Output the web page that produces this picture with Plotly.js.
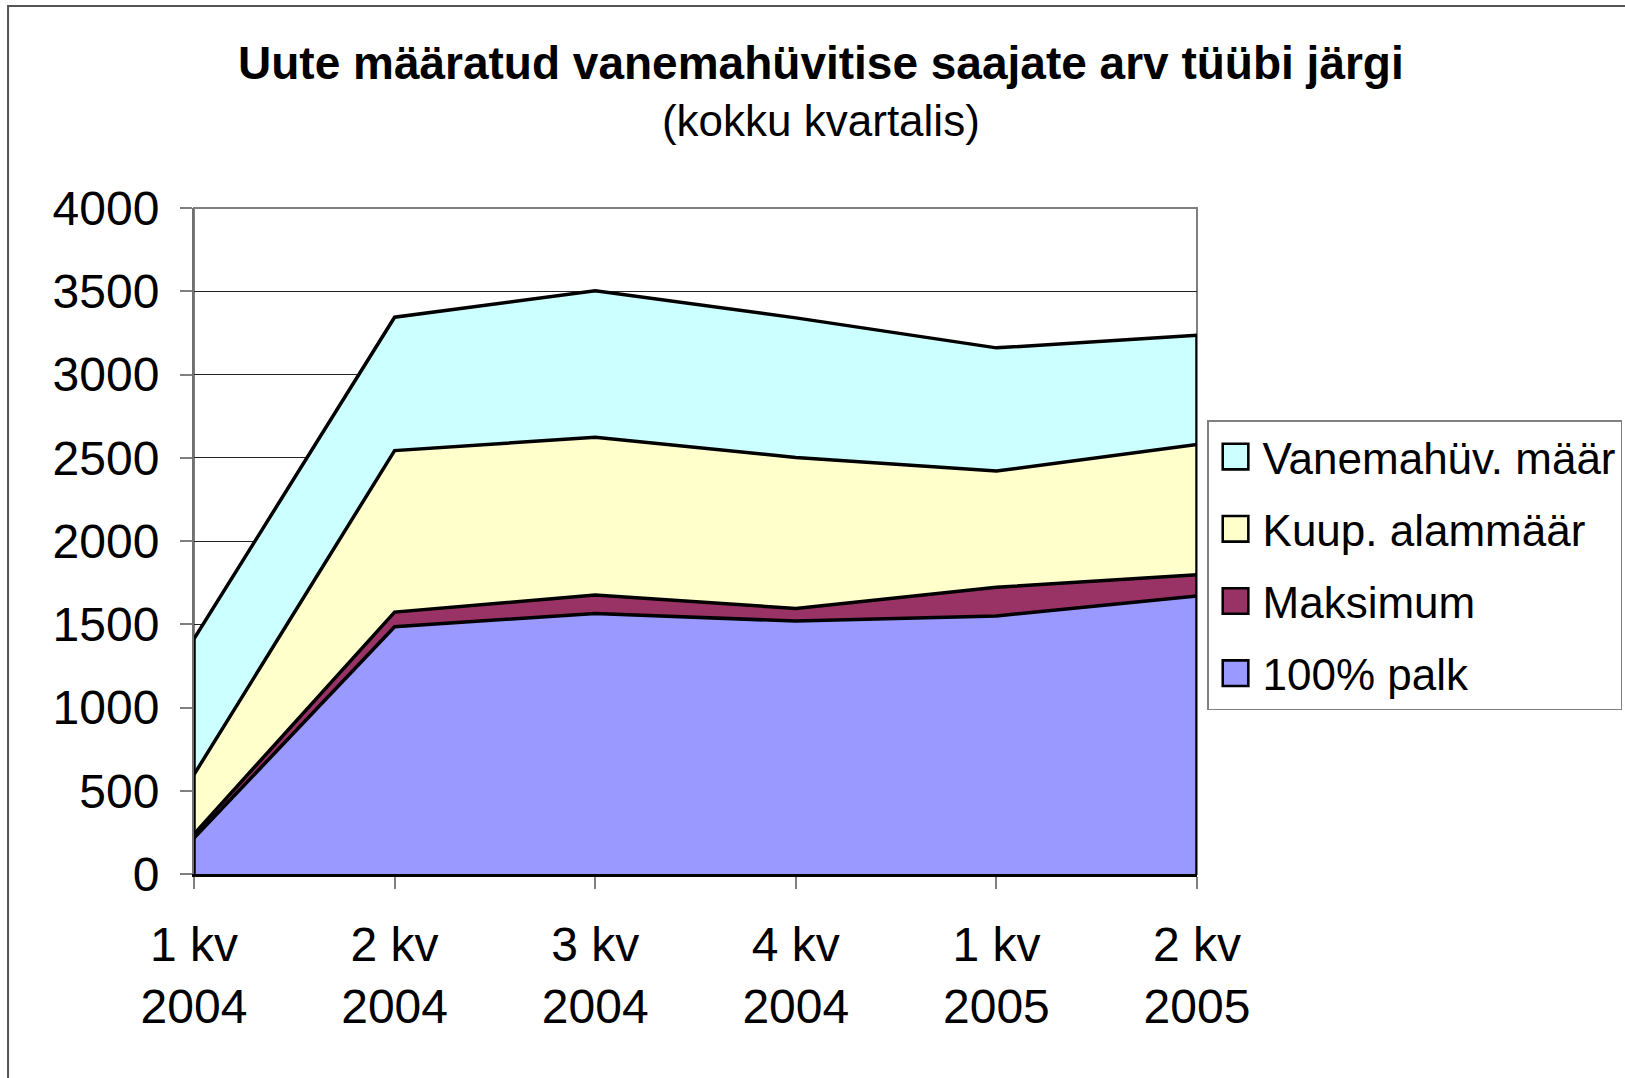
<!DOCTYPE html>
<html>
<head>
<meta charset="utf-8">
<script src="https://cdn.plot.ly/plotly-3.0.1.min.js"></script>
<style>
  html, body { margin: 0; padding: 0; background: #ffffff; }
  #chart { width: 1625px; height: 1078px; }
</style>
</head>
<body>
<div id="chart"></div>
<script>
// ---- Data ----
const categories = ["1 kv<br>2004", "2 kv<br>2004", "3 kv<br>2004", "4 kv<br>2004", "1 kv<br>2005", "2 kv<br>2005"];
const palk100   = [216, 1485, 1565, 1519, 1550, 1670];   // 100% palk
const maksimum  = [24, 88, 111, 76, 172, 127];           // Maksimum
const kuupAlam  = [357, 970, 947, 907, 698, 782];        // Kuup. alammäär
const vanemMaar = [815, 801, 880, 838, 740, 656];        // Vanemahüv. määr
const seriesNames = ["Vanemahüv. määr", "Kuup. alammäär", "Maksimum", "100% palk"];
const seriesColors = ["#CCFFFF", "#FFFFCC", "#993366", "#9999FF"];
const yTicks = [0, 500, 1000, 1500, 2000, 2500, 3000, 3500, 4000];

const FONT = "Liberation Sans, Arial, sans-serif";
const lineStyle = {color: "#000000", width: 3.5};

const stackSeries = [
  {name: seriesNames[3], y: palk100,   color: seriesColors[3]},
  {name: seriesNames[2], y: maksimum,  color: seriesColors[2]},
  {name: seriesNames[1], y: kuupAlam,  color: seriesColors[1]},
  {name: seriesNames[0], y: vanemMaar, color: seriesColors[0]}
];

const traces = stackSeries.map(s => ({
  type: "scatter", mode: "lines", x: categories, y: s.y, name: s.name,
  stackgroup: "one", fillcolor: s.color, line: lineStyle,
  showlegend: false, hoverinfo: "x+y+name"
}));

// totals for the vertical outline at both ends of the stacked area
const totals = categories.map((_, i) => palk100[i] + maksimum[i] + kuupAlam[i] + vanemMaar[i]);
const nLast = categories.length - 1;
traces.push({type: "scatter", mode: "lines", x: [categories[0], categories[0]], y: [0, totals[0]],
  line: lineStyle, showlegend: false, hoverinfo: "skip"});
traces.push({type: "scatter", mode: "lines", x: [categories[nLast], categories[nLast]], y: [0, totals[nLast]],
  line: lineStyle, showlegend: false, hoverinfo: "skip"});

// legend entries (square swatches with black border)
seriesNames.forEach((nm, i) => {
  traces.push({type: "scatter", mode: "markers", x: [null], y: [null], name: nm,
    legendgroup: "g" + i, showlegend: true,
    marker: {symbol: "square", size: 16, color: seriesColors[i], line: {color: "#000000", width: 1.6}}});
});

const layout = {
  width: 1625, height: 1078,
  paper_bgcolor: "#ffffff", plot_bgcolor: "#ffffff",
  margin: {l: 194, r: 428, t: 208, b: 204, pad: 0, autoexpand: false},
  font: {family: FONT, color: "#000000", size: 44},
  title: {
    text: "<b><span style='font-size:46px'>Uute määratud vanemahüvitise saajate arv tüübi järgi</span></b><br>(kokku kvartalis)",
    font: {family: FONT, size: 44, color: "#000000"},
    xref: "paper", x: 0.625, xanchor: "center",
    yref: "container", y: 1 - 79 / 1078, yanchor: "top"
  },
  xaxis: {
    type: "category", range: [0, nLast],
    showline: true, linecolor: "#000000", linewidth: 3,
    ticks: "outside", ticklen: 12, tickcolor: "#808080", tickwidth: 2,
    showgrid: false, zeroline: false,
    tickfont: {family: FONT, size: 48, color: "#000000"},
    ticklabelstandoff: 14
  },
  yaxis: {
    range: [0, 4000], tickvals: yTicks, ticktext: yTicks.map(String),
    showline: true, linecolor: "#707070", linewidth: 2,
    ticks: "outside", ticklen: 12, tickcolor: "#808080", tickwidth: 2,
    showgrid: true, gridcolor: "#222222", gridwidth: 1,
    zeroline: false,
    tickfont: {family: FONT, size: 48, color: "#000000"},
    ticklabelstandoff: 11
  },
  legend: {
    x: 1.01, xanchor: "left", y: (874 - 420) / 666, yanchor: "top",
    bgcolor: "#ffffff", bordercolor: "#808080", borderwidth: 1.5,
    font: {family: FONT, size: 44, color: "#000000"},
    traceorder: "grouped", tracegroupgap: 12, itemsizing: "trace", itemwidth: 44
  },
  shapes: [
    // plot-area border (top/right in gray)
    {type: "rect", xref: "paper", yref: "paper", x0: 0, x1: 1, y0: 0, y1: 1,
     line: {color: "#808080", width: 2}, layer: "below"},
    // outer chart frame
    {type: "rect", xref: "paper", yref: "paper", x0: -0.1854, x1: 1.6, y0: -0.5, y1: 1.3033,
     line: {color: "#555555", width: 2}, layer: "below"}
  ],
  showlegend: true
};

function enlargeLegendSwatches() {
  document.querySelectorAll("#chart .legend .legendpoints path").forEach(p => {
    const t = p.getAttribute("transform") || "";
    if (t.indexOf("scale") === -1) p.setAttribute("transform", (t + " scale(1.6)").trim());
  });
}

Plotly.newPlot("chart", traces, layout, {displayModeBar: false, responsive: false})
  .then(enlargeLegendSwatches);
</script>
</body>
</html>
